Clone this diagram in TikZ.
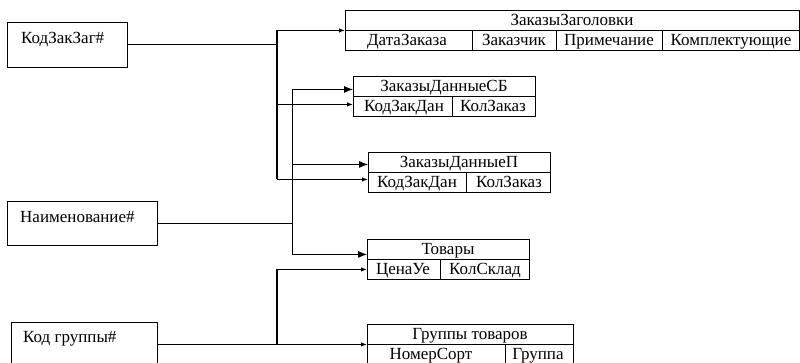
\documentclass[tikz,border=0pt]{standalone}
\usepackage{fontspec}
\setmainfont{Liberation Serif}
\newfontfamily\tnr{Liberation Serif}
\usetikzlibrary{arrows.meta}
\begin{document}
\begin{tikzpicture}[x=1pt,y=-1pt,
  box/.style={draw, line width=0.9pt, inner sep=0pt, anchor=north west},
  txt/.style={inner sep=0pt, text height=11pt, text depth=0pt, font=\tnr\fontsize{17}{20}\selectfont},
  ltxt/.style={txt, anchor=west},
  sep/.style={line width=0.8pt},
  linka/.style={line width=1.1pt},
  linkb/.style={line width=0.8pt},
  sarrow/.style={-{Latex[length=6pt,width=4.5pt]}},
  barrow/.style={-{Latex[length=9pt,width=7pt]}}]
\useasboundingbox (0,0) rectangle (800,363);
\fill[white] (0,0) rectangle (800,363);
% left boxes
\node[box, minimum width=120, minimum height=45] (kz) at (7,22) {};
\node[ltxt] (kzt) at (21,38) {КодЗакЗаг\#};
\node[box, minimum width=150, minimum height=44] (nm) at (7,201) {};
\node[ltxt] (nmt) at (20,217) {Наименование\#};
\node[box, minimum width=146, minimum height=44] (kg) at (11,322) {};
\node[ltxt] (kgt) at (23,337) {Код группы\#};
% table 1
\node[box, minimum width=454, minimum height=40] (t1) at (345,10) {};
\draw[sep] (t1.west) -- (t1.east);
\draw[sep] (472,30) -- (472,50) (556,30) -- (556,50) (662,30) -- (662,50);
\node[txt] (t1h) at (572,20) {ЗаказыЗаголовки};
\node[txt] (t1a) at (407,40) {ДатаЗаказа};
\node[txt] (t1b) at (514,40) {Заказчик};
\node[txt] (t1c) at (609,40) {Примечание};
\node[txt] (t1d) at (731,40) {Комплектующие};
% table 2
\node[box, minimum width=182, minimum height=40] (t2) at (353,76) {};
\draw[sep] (t2.west) -- (t2.east);
\draw[sep] (452,96) -- (452,116);
\node[txt] (t2h) at (444,86) {ЗаказыДанныеСБ};
\node[txt] (t2a) at (404,106) {КодЗакДан};
\node[txt] (t2b) at (493,106) {КолЗаказ};
% table 3
\node[box, minimum width=182, minimum height=40] (t3) at (368,152) {};
\draw[sep] (t3.west) -- (t3.east);
\draw[sep] (466,172) -- (466,192);
\node[txt] (t3h) at (459,162) {ЗаказыДанныеП};
\node[txt] (t3a) at (417,182) {КодЗакДан};
\node[txt] (t3b) at (509,182) {КолЗаказ};
% table 4
\node[box, minimum width=162, minimum height=40] (t4) at (367,239) {};
\draw[sep] (t4.west) -- (t4.east);
\draw[sep] (440,259) -- (440,279);
\node[txt] (t4h) at (448,249) {Товары};
\node[txt] (t4a) at (403,269) {ЦенаУе};
\node[txt] (t4b) at (485,269) {КолСклад};
% table 5
\node[box, minimum width=206, minimum height=40] (t5) at (367,324) {};
\draw[sep] (t5.west) -- (t5.east);
\draw[sep] (505,344) -- (505,364);
\node[txt] (t5h) at (470,334) {Группы товаров};
\node[txt] (t5a) at (431,354) {НомерСорт};
\node[txt] (t5b) at (538,354) {Группа};
% arrow targets on the tables' left edges
\coordinate (a1) at (t1.west);
\coordinate (a2s) at ([yshift=-8pt]t2.west);
\coordinate (a3s) at ([yshift=-7pt]t3.west);
\coordinate (a2b) at ([yshift=7pt]t2.west);
\coordinate (a3b) at ([yshift=8pt]t3.west);
\coordinate (a4b) at ([yshift=5pt]t4.west);
\coordinate (a4s) at ([yshift=-10pt]t4.west);
% junction columns
\coordinate (ja) at (277,0);
\coordinate (jb) at (292,0);
% connectors from КодЗакЗаг#
\draw[linka] (kz.east) -- (ja |- kz.east);
\draw[linka] (ja |- a1) -- (ja |- a3s);
\draw[linka,sarrow] (ja |- a1) -- (a1);
\draw[linka,sarrow] (ja |- a2s) -- (a2s);
\draw[linka,sarrow] (ja |- a3s) -- (a3s);
% connectors from Наименование#
\draw[linkb] (nm.east) -- (jb |- nm.east);
\draw[linkb] (jb |- a2b) -- (jb |- a4b);
\draw[linkb,barrow] (jb |- a2b) -- (a2b);
\draw[linkb,barrow] (jb |- a3b) -- (a3b);
\draw[linkb,barrow] (jb |- a4b) -- (a4b);
% connectors from Код группы#
\coordinate (jc) at (ja |- kg.east);
\draw[linka,sarrow] (kg.east) -- (t5.west);
\draw[linka,sarrow] (jc) |- (a4s);
\end{tikzpicture}
\end{document}
